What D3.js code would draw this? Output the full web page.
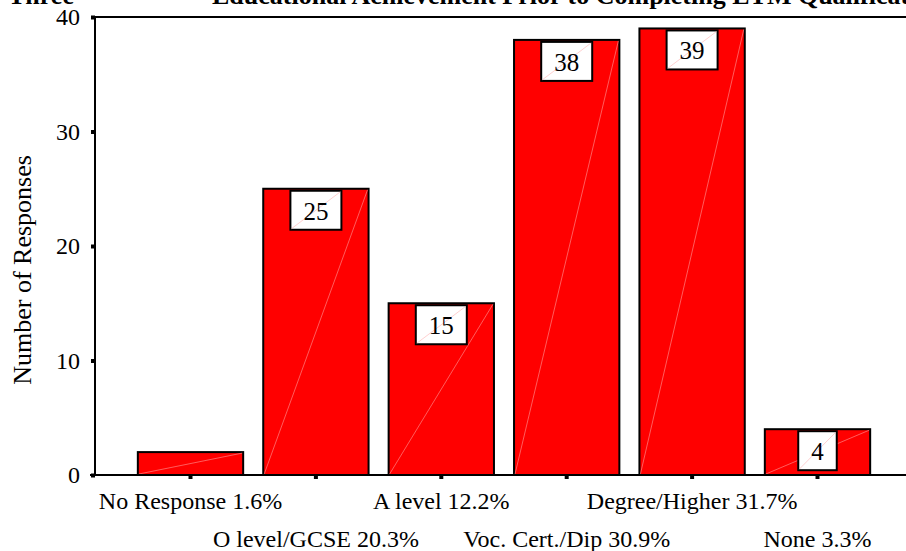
<!DOCTYPE html>
<html><head><meta charset="utf-8">
<script src="https://cdn.jsdelivr.net/npm/d3@7"></script>
<style>
html,body{margin:0;padding:0;background:#fff;overflow:hidden;}
</style></head>
<body>
<svg id="chart" width="906" height="551" font-family="'Liberation Serif', 'Times New Roman', Times, serif"></svg>
<script>
const categories = ["No Response","O level/GCSE","A level","Voc. Cert./Dip","Degree/Higher","None"];
const percents = ["1.6%","20.3%","12.2%","30.9%","31.7%","3.3%"];
const values = [2,25,15,38,39,4];
const showLabel = [false,true,true,true,true,true];
const yTicks = [0,10,20,30,40];
const titleLead = "Three";
const title = "Educational Achievement Prior to Completing ETM Qualifications";
const yTitle = "Number of Responses";

(function(){
const FONT = "'Liberation Serif', 'Times New Roman', Times, serif";
const svg = d3.select("#chart");
const pLeft = 95, pTop = 17, pBottom = 475, pRight = 906;

const x = d3.scaleBand().domain(categories).range([127.8, 880.2]).paddingInner(0.16).paddingOuter(0.08);
const y = d3.scaleLinear().domain([0,40]).range([pBottom, pTop]);

// title
svg.append("text").attr("x",8).attr("y",4).attr("font-family",FONT).attr("font-size",26).attr("font-weight","bold").text(titleLead);
svg.append("text").attr("x",212).attr("y",4).attr("font-family",FONT).attr("font-size",26).attr("font-weight","bold").text(title);

// frame top line
svg.append("line").attr("x1",pLeft).attr("x2",pRight).attr("y1",pTop).attr("y2",pTop).attr("stroke","#000").attr("stroke-width",2);

// bars
const g = svg.append("g");
categories.forEach((c,i)=>{
  const bx = x(c), bw = x.bandwidth(), by = y(values[i]), bh = y(0)-y(values[i]);
  g.append("rect").attr("x",bx).attr("y",by).attr("width",bw).attr("height",bh)
    .attr("fill","#ff0000").attr("stroke","#000").attr("stroke-width",2);
  g.append("line").attr("x1",bx+1).attr("y1",by+bh-1).attr("x2",bx+bw-1).attr("y2",by+1)
    .attr("stroke","#ff9a9a").attr("stroke-width",0.6);
});

// y axis
const yAxis = d3.axisLeft(y).tickValues(yTicks).tickSize(4).tickPadding(11);
const ya = svg.append("g").attr("transform",`translate(${pLeft},0)`).call(yAxis);
ya.attr("font-family",FONT);
ya.select(".domain").attr("stroke","#000").attr("stroke-width",2).attr("d",`M0,${pTop}V${pBottom}`);
ya.selectAll(".tick line").attr("stroke","#000").attr("stroke-width",4);
ya.selectAll(".tick text").attr("font-size",24).attr("fill","#000").attr("font-family",FONT);

// x axis
const xAxis = d3.axisBottom(x).tickSize(4).tickFormat("");
const xa = svg.append("g").attr("transform",`translate(0,${pBottom})`).call(xAxis);
xa.select(".domain").attr("stroke","#000").attr("stroke-width",2).attr("d",`M${pLeft-5},0H${pRight}`);
xa.selectAll(".tick line").attr("stroke","#000").attr("stroke-width",4);

// category labels, staggered
categories.forEach((c,i)=>{
  svg.append("text").attr("x",x(c)+x.bandwidth()/2).attr("y", i%2===0 ? 509 : 547)
    .attr("text-anchor","middle").attr("font-family",FONT).attr("font-size",24).text(c+" "+percents[i]);
});

// value label boxes
categories.forEach((c,i)=>{
  if(!showLabel[i]) return;
  const cx = x(c)+x.bandwidth()/2, by = y(values[i]);
  const t = svg.append("text").attr("x",cx).attr("y",by+2+29).attr("text-anchor","middle")
    .attr("font-family",FONT).attr("font-size",25).text(values[i]);
  const w = t.node().getComputedTextLength()+26;
  const bx = cx-w/2, bt = by+2, bh = 39;
  svg.insert("rect", () => t.node()).attr("x",bx).attr("y",bt).attr("width",w).attr("height",bh)
    .attr("fill","#fff").attr("stroke","#000").attr("stroke-width",2);
  svg.insert("line", () => t.node()).attr("x1",bx+1).attr("y1",bt+bh-1).attr("x2",bx+w-1).attr("y2",bt+1)
    .attr("stroke","#ffb0b0").attr("stroke-width",0.6);
});

// y title
svg.append("text").attr("transform","translate(31,270) rotate(-90)").attr("text-anchor","middle")
  .attr("font-family",FONT).attr("font-size",26).text(yTitle);
})();
</script>
</body></html>
